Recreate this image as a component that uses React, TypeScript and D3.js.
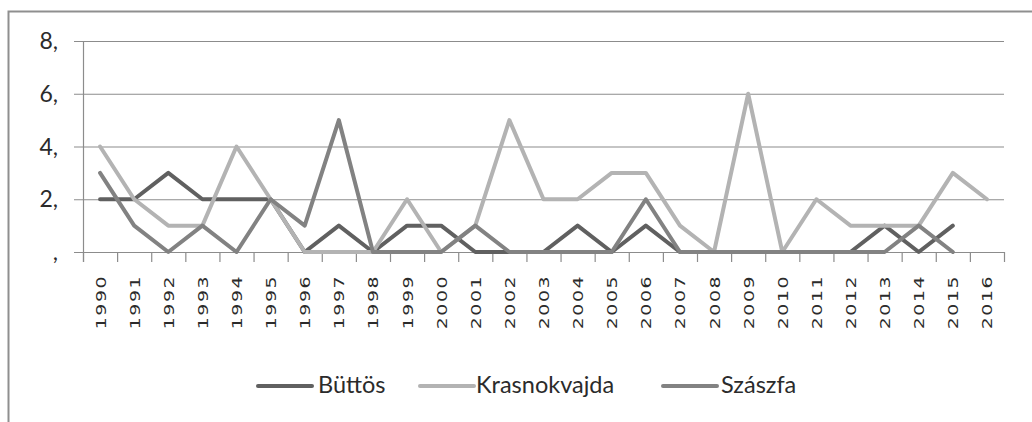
import React from 'react';
import * as d3 from 'd3';

const years = [
  '1990', '1991', '1992', '1993', '1994', '1995', '1996', '1997', '1998', '1999',
  '2000', '2001', '2002', '2003', '2004', '2005', '2006', '2007', '2008', '2009',
  '2010', '2011', '2012', '2013', '2014', '2015', '2016',
];

// 2016 has no value for Büttös and Szászfa
const buttos = [2, 2, 3, 2, 2, 2, 0, 1, 0, 1, 1, 0, 0, 0, 1, 0, 1, 0, 0, 0, 0, 0, 0, 1, 0, 1, null];
const krasnokvajda = [4, 2, 1, 1, 4, 2, 0, 0, 0, 2, 0, 1, 5, 2, 2, 3, 3, 1, 0, 6, 0, 2, 1, 1, 1, 3, 2];
const szaszfa = [3, 1, 0, 1, 0, 2, 1, 5, 0, 0, 0, 1, 0, 0, 0, 0, 2, 0, 0, 0, 0, 0, 0, 0, 1, 0, null];

const yTicks = [0, 2, 4, 6, 8];
const yTickLabels = [',', '2,', '4,', '6,', '8,'];

const seriesNames = ['Büttös', 'Krasnokvajda', 'Szászfa'];
const seriesColors = ['#606060', '#b3b3b3', '#828282'];

const W = 1032;
const H = 422;
const plot = { left: 83, right: 1004, top: 41, bottom: 252 };
const gridColor = '#8c8c8c';
const textColor = '#2b2b2b';

const App = () => {
  const x = d3.scaleBand<string>().domain(years).range([plot.left, plot.right]).padding(0);
  const y = d3.scaleLinear().domain([0, 8]).range([plot.bottom, plot.top]);
  const bw = x.bandwidth();
  const cx = (yr: string) => (x(yr) as number) + bw / 2;

  const line = d3
    .line<number | null>()
    .defined(d => d !== null)
    .x((_, i) => cx(years[i]))
    .y(d => y(d as number));

  const allSeries = [buttos, krasnokvajda, szaszfa];

  // legend layout
  const legend = [
    { lx: 258, tx: 318 },
    { lx: 420, tx: 476 },
    { lx: 663, tx: 721 },
  ];

  return (
    <svg width={W} height={H} style={{ position: 'absolute', left: 0, top: 0 }}>
      <rect x={0} y={0} width={W} height={H} fill="#ffffff" />
      <rect x={8.5} y={11.5} width={1100} height={500} fill="none" stroke="#8f8f8f" strokeWidth={2} />

      {/* gridlines */}
      {yTicks.map(t => (
        <line key={t} x1={plot.left - 9} x2={plot.right} y1={y(t) + 0.5} y2={y(t) + 0.5}
          stroke={gridColor} strokeWidth={1.2} />
      ))}
      {/* y axis */}
      <line x1={plot.left + 0.5} x2={plot.left + 0.5} y1={plot.top} y2={plot.bottom + 10}
        stroke={gridColor} strokeWidth={1.2} />
      {/* x ticks at category boundaries */}
      {years.map(yr => (
        <line key={yr} x1={(x(yr) as number) + 0.5} x2={(x(yr) as number) + 0.5}
          y1={plot.bottom} y2={plot.bottom + 10} stroke={gridColor} strokeWidth={1.2} />
      ))}
      <line x1={plot.right + 0.5} x2={plot.right + 0.5} y1={plot.bottom} y2={plot.bottom + 10}
        stroke={gridColor} strokeWidth={1.2} />

      {/* y labels */}
      {yTicks.map((t, i) => (
        <text key={t} x={58} y={y(t) + 8} textAnchor="end" fontFamily="Lato" fontSize={23}
          fill={textColor}>{yTickLabels[i]}</text>
      ))}

      {/* x labels */}
      {years.map(yr => (
        <text key={yr} transform={`translate(${cx(yr) + 5.5},275) rotate(-90) scale(1.3,1)`}
          textAnchor="end" fontFamily="DejaVu Sans" fontSize={14.5} letterSpacing={1.2}
          fill={textColor}>{yr}</text>
      ))}

      {/* series */}
      {allSeries.map((s, i) => (
        <path key={seriesNames[i]} d={line(s) || ''} fill="none" stroke={seriesColors[i]}
          strokeWidth={4} strokeLinejoin="round" strokeLinecap="round" />
      ))}

      {/* legend */}
      {seriesNames.map((n, i) => (
        <g key={n}>
          <line x1={legend[i].lx} x2={legend[i].lx + 54} y1={386} y2={386}
            stroke={seriesColors[i]} strokeWidth={4} strokeLinecap="round" />
          <text x={legend[i].tx} y={393} fontFamily="Lato" fontSize={23.5} fill={textColor}>{n}</text>
        </g>
      ))}
    </svg>
  );
};

export default App;
